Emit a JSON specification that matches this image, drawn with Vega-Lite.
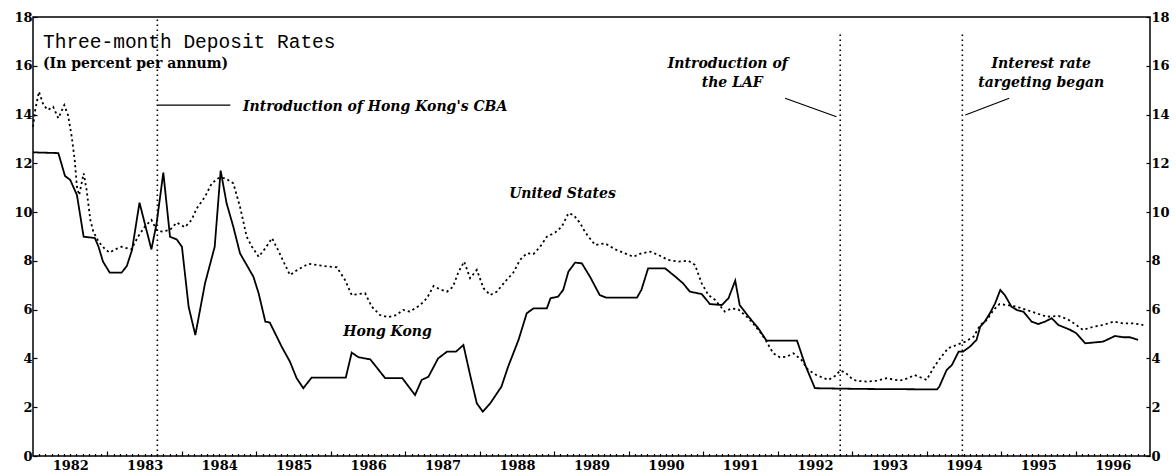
{
  "$schema": "https://vega.github.io/schema/vega-lite/v6.json",
  "width": 1117,
  "height": 439,
  "autosize": {"type": "none"},
  "padding": {"left": 33, "top": 17, "right": 26, "bottom": 20},
  "background": "white",
  "config": {
    "view": {"stroke": "black", "strokeWidth": 1.5},
    "axis": {"domain": false, "grid": false, "title": null, "tickColor": "black", "tickWidth": 1.2, "labelColor": "black", "labelFont": "DejaVu Serif", "labelFontWeight": "bold", "labelFontSize": 13, "labelOverlap": false, "labelFlush": false}
  },
  "datasets": {
    "rates": [
      {"series": "Hong Kong", "year": 1982.00, "rate": 12.45},
      {"series": "Hong Kong", "year": 1982.34, "rate": 12.42},
      {"series": "Hong Kong", "year": 1982.43, "rate": 11.48},
      {"series": "Hong Kong", "year": 1982.50, "rate": 11.32},
      {"series": "Hong Kong", "year": 1982.59, "rate": 10.70},
      {"series": "Hong Kong", "year": 1982.68, "rate": 8.99},
      {"series": "Hong Kong", "year": 1982.83, "rate": 8.94},
      {"series": "Hong Kong", "year": 1982.88, "rate": 8.58},
      {"series": "Hong Kong", "year": 1982.94, "rate": 7.97},
      {"series": "Hong Kong", "year": 1983.03, "rate": 7.52},
      {"series": "Hong Kong", "year": 1983.19, "rate": 7.52},
      {"series": "Hong Kong", "year": 1983.26, "rate": 7.79},
      {"series": "Hong Kong", "year": 1983.33, "rate": 8.45},
      {"series": "Hong Kong", "year": 1983.43, "rate": 10.39},
      {"series": "Hong Kong", "year": 1983.59, "rate": 8.47},
      {"series": "Hong Kong", "year": 1983.66, "rate": 9.54},
      {"series": "Hong Kong", "year": 1983.75, "rate": 11.62},
      {"series": "Hong Kong", "year": 1983.84, "rate": 8.99},
      {"series": "Hong Kong", "year": 1983.93, "rate": 8.88},
      {"series": "Hong Kong", "year": 1984.00, "rate": 8.58},
      {"series": "Hong Kong", "year": 1984.09, "rate": 6.12},
      {"series": "Hong Kong", "year": 1984.18, "rate": 4.96},
      {"series": "Hong Kong", "year": 1984.31, "rate": 7.08},
      {"series": "Hong Kong", "year": 1984.44, "rate": 8.58},
      {"series": "Hong Kong", "year": 1984.52, "rate": 11.70},
      {"series": "Hong Kong", "year": 1984.60, "rate": 10.36},
      {"series": "Hong Kong", "year": 1984.69, "rate": 9.40},
      {"series": "Hong Kong", "year": 1984.78, "rate": 8.31},
      {"series": "Hong Kong", "year": 1984.87, "rate": 7.83},
      {"series": "Hong Kong", "year": 1984.96, "rate": 7.35},
      {"series": "Hong Kong", "year": 1985.03, "rate": 6.67},
      {"series": "Hong Kong", "year": 1985.12, "rate": 5.51},
      {"series": "Hong Kong", "year": 1985.18, "rate": 5.47},
      {"series": "Hong Kong", "year": 1985.34, "rate": 4.48},
      {"series": "Hong Kong", "year": 1985.45, "rate": 3.87},
      {"series": "Hong Kong", "year": 1985.54, "rate": 3.19},
      {"series": "Hong Kong", "year": 1985.63, "rate": 2.78},
      {"series": "Hong Kong", "year": 1985.74, "rate": 3.21},
      {"series": "Hong Kong", "year": 1986.20, "rate": 3.21},
      {"series": "Hong Kong", "year": 1986.28, "rate": 4.24},
      {"series": "Hong Kong", "year": 1986.37, "rate": 4.05},
      {"series": "Hong Kong", "year": 1986.53, "rate": 3.96},
      {"series": "Hong Kong", "year": 1986.73, "rate": 3.19},
      {"series": "Hong Kong", "year": 1986.96, "rate": 3.19},
      {"series": "Hong Kong", "year": 1987.13, "rate": 2.50},
      {"series": "Hong Kong", "year": 1987.22, "rate": 3.12},
      {"series": "Hong Kong", "year": 1987.31, "rate": 3.25},
      {"series": "Hong Kong", "year": 1987.44, "rate": 4.00},
      {"series": "Hong Kong", "year": 1987.56, "rate": 4.28},
      {"series": "Hong Kong", "year": 1987.68, "rate": 4.28},
      {"series": "Hong Kong", "year": 1987.78, "rate": 4.55},
      {"series": "Hong Kong", "year": 1987.87, "rate": 3.32},
      {"series": "Hong Kong", "year": 1987.96, "rate": 2.16},
      {"series": "Hong Kong", "year": 1988.04, "rate": 1.82},
      {"series": "Hong Kong", "year": 1988.14, "rate": 2.16},
      {"series": "Hong Kong", "year": 1988.29, "rate": 2.84},
      {"series": "Hong Kong", "year": 1988.38, "rate": 3.66},
      {"series": "Hong Kong", "year": 1988.52, "rate": 4.76},
      {"series": "Hong Kong", "year": 1988.63, "rate": 5.85},
      {"series": "Hong Kong", "year": 1988.72, "rate": 6.05},
      {"series": "Hong Kong", "year": 1988.90, "rate": 6.05},
      {"series": "Hong Kong", "year": 1988.95, "rate": 6.47},
      {"series": "Hong Kong", "year": 1989.05, "rate": 6.53},
      {"series": "Hong Kong", "year": 1989.12, "rate": 6.81},
      {"series": "Hong Kong", "year": 1989.19, "rate": 7.56},
      {"series": "Hong Kong", "year": 1989.28, "rate": 7.93},
      {"series": "Hong Kong", "year": 1989.37, "rate": 7.90},
      {"series": "Hong Kong", "year": 1989.48, "rate": 7.35},
      {"series": "Hong Kong", "year": 1989.61, "rate": 6.60},
      {"series": "Hong Kong", "year": 1989.70, "rate": 6.49},
      {"series": "Hong Kong", "year": 1990.11, "rate": 6.49},
      {"series": "Hong Kong", "year": 1990.17, "rate": 6.81},
      {"series": "Hong Kong", "year": 1990.26, "rate": 7.69},
      {"series": "Hong Kong", "year": 1990.49, "rate": 7.69},
      {"series": "Hong Kong", "year": 1990.60, "rate": 7.42},
      {"series": "Hong Kong", "year": 1990.73, "rate": 7.08},
      {"series": "Hong Kong", "year": 1990.82, "rate": 6.74},
      {"series": "Hong Kong", "year": 1990.98, "rate": 6.64},
      {"series": "Hong Kong", "year": 1991.09, "rate": 6.23},
      {"series": "Hong Kong", "year": 1991.25, "rate": 6.19},
      {"series": "Hong Kong", "year": 1991.34, "rate": 6.47},
      {"series": "Hong Kong", "year": 1991.43, "rate": 7.19},
      {"series": "Hong Kong", "year": 1991.49, "rate": 6.19},
      {"series": "Hong Kong", "year": 1991.61, "rate": 5.71},
      {"series": "Hong Kong", "year": 1991.74, "rate": 5.24},
      {"series": "Hong Kong", "year": 1991.85, "rate": 4.73},
      {"series": "Hong Kong", "year": 1992.26, "rate": 4.73},
      {"series": "Hong Kong", "year": 1992.37, "rate": 3.73},
      {"series": "Hong Kong", "year": 1992.50, "rate": 2.78},
      {"series": "Hong Kong", "year": 1993.11, "rate": 2.75},
      {"series": "Hong Kong", "year": 1994.14, "rate": 2.73},
      {"series": "Hong Kong", "year": 1994.17, "rate": 2.84},
      {"series": "Hong Kong", "year": 1994.27, "rate": 3.53},
      {"series": "Hong Kong", "year": 1994.34, "rate": 3.73},
      {"series": "Hong Kong", "year": 1994.43, "rate": 4.28},
      {"series": "Hong Kong", "year": 1994.49, "rate": 4.28},
      {"series": "Hong Kong", "year": 1994.58, "rate": 4.48},
      {"series": "Hong Kong", "year": 1994.67, "rate": 4.76},
      {"series": "Hong Kong", "year": 1994.72, "rate": 5.30},
      {"series": "Hong Kong", "year": 1994.78, "rate": 5.51},
      {"series": "Hong Kong", "year": 1994.85, "rate": 5.85},
      {"series": "Hong Kong", "year": 1994.92, "rate": 6.26},
      {"series": "Hong Kong", "year": 1994.99, "rate": 6.81},
      {"series": "Hong Kong", "year": 1995.05, "rate": 6.60},
      {"series": "Hong Kong", "year": 1995.14, "rate": 6.12},
      {"series": "Hong Kong", "year": 1995.21, "rate": 5.99},
      {"series": "Hong Kong", "year": 1995.30, "rate": 5.92},
      {"series": "Hong Kong", "year": 1995.41, "rate": 5.51},
      {"series": "Hong Kong", "year": 1995.50, "rate": 5.41},
      {"series": "Hong Kong", "year": 1995.59, "rate": 5.51},
      {"series": "Hong Kong", "year": 1995.68, "rate": 5.65},
      {"series": "Hong Kong", "year": 1995.77, "rate": 5.37},
      {"series": "Hong Kong", "year": 1995.93, "rate": 5.17},
      {"series": "Hong Kong", "year": 1996.01, "rate": 5.03},
      {"series": "Hong Kong", "year": 1996.13, "rate": 4.62},
      {"series": "Hong Kong", "year": 1996.37, "rate": 4.69},
      {"series": "Hong Kong", "year": 1996.53, "rate": 4.92},
      {"series": "Hong Kong", "year": 1996.64, "rate": 4.87},
      {"series": "Hong Kong", "year": 1996.73, "rate": 4.87},
      {"series": "Hong Kong", "year": 1996.84, "rate": 4.76},
      {"series": "United States", "year": 1982.00, "rate": 13.50},
      {"series": "United States", "year": 1982.03, "rate": 14.19},
      {"series": "United States", "year": 1982.08, "rate": 14.94},
      {"series": "United States", "year": 1982.14, "rate": 14.39},
      {"series": "United States", "year": 1982.20, "rate": 14.19},
      {"series": "United States", "year": 1982.27, "rate": 14.32},
      {"series": "United States", "year": 1982.34, "rate": 13.85},
      {"series": "United States", "year": 1982.42, "rate": 14.39},
      {"series": "United States", "year": 1982.47, "rate": 13.98},
      {"series": "United States", "year": 1982.52, "rate": 13.09},
      {"series": "United States", "year": 1982.56, "rate": 12.14},
      {"series": "United States", "year": 1982.59, "rate": 11.04},
      {"series": "United States", "year": 1982.62, "rate": 10.70},
      {"series": "United States", "year": 1982.68, "rate": 11.59},
      {"series": "United States", "year": 1982.72, "rate": 10.91},
      {"series": "United States", "year": 1982.77, "rate": 9.68},
      {"series": "United States", "year": 1982.81, "rate": 9.20},
      {"series": "United States", "year": 1982.88, "rate": 8.79},
      {"series": "United States", "year": 1982.97, "rate": 8.47},
      {"series": "United States", "year": 1983.03, "rate": 8.34},
      {"series": "United States", "year": 1983.10, "rate": 8.47},
      {"series": "United States", "year": 1983.19, "rate": 8.58},
      {"series": "United States", "year": 1983.32, "rate": 8.47},
      {"series": "United States", "year": 1983.41, "rate": 8.99},
      {"series": "United States", "year": 1983.50, "rate": 9.40},
      {"series": "United States", "year": 1983.59, "rate": 9.68},
      {"series": "United States", "year": 1983.66, "rate": 9.27},
      {"series": "United States", "year": 1983.73, "rate": 9.20},
      {"series": "United States", "year": 1983.84, "rate": 9.27},
      {"series": "United States", "year": 1983.93, "rate": 9.57},
      {"series": "United States", "year": 1984.04, "rate": 9.38},
      {"series": "United States", "year": 1984.13, "rate": 9.68},
      {"series": "United States", "year": 1984.20, "rate": 10.16},
      {"series": "United States", "year": 1984.31, "rate": 10.63},
      {"series": "United States", "year": 1984.40, "rate": 11.18},
      {"series": "United States", "year": 1984.49, "rate": 11.39},
      {"series": "United States", "year": 1984.58, "rate": 11.39},
      {"series": "United States", "year": 1984.69, "rate": 11.18},
      {"series": "United States", "year": 1984.78, "rate": 10.22},
      {"series": "United States", "year": 1984.87, "rate": 8.99},
      {"series": "United States", "year": 1984.94, "rate": 8.58},
      {"series": "United States", "year": 1985.03, "rate": 8.17},
      {"series": "United States", "year": 1985.12, "rate": 8.52},
      {"series": "United States", "year": 1985.21, "rate": 8.93},
      {"series": "United States", "year": 1985.29, "rate": 8.45},
      {"series": "United States", "year": 1985.45, "rate": 7.42},
      {"series": "United States", "year": 1985.56, "rate": 7.65},
      {"series": "United States", "year": 1985.70, "rate": 7.88},
      {"series": "United States", "year": 1985.90, "rate": 7.79},
      {"series": "United States", "year": 1986.08, "rate": 7.74},
      {"series": "United States", "year": 1986.19, "rate": 7.22},
      {"series": "United States", "year": 1986.28, "rate": 6.60},
      {"series": "United States", "year": 1986.37, "rate": 6.64},
      {"series": "United States", "year": 1986.46, "rate": 6.67},
      {"series": "United States", "year": 1986.55, "rate": 6.12},
      {"series": "United States", "year": 1986.66, "rate": 5.78},
      {"series": "United States", "year": 1986.77, "rate": 5.69},
      {"series": "United States", "year": 1986.88, "rate": 5.78},
      {"series": "United States", "year": 1986.97, "rate": 5.99},
      {"series": "United States", "year": 1987.06, "rate": 5.92},
      {"series": "United States", "year": 1987.20, "rate": 6.19},
      {"series": "United States", "year": 1987.29, "rate": 6.47},
      {"series": "United States", "year": 1987.38, "rate": 6.97},
      {"series": "United States", "year": 1987.47, "rate": 6.83},
      {"series": "United States", "year": 1987.56, "rate": 6.74},
      {"series": "United States", "year": 1987.64, "rate": 6.94},
      {"series": "United States", "year": 1987.71, "rate": 7.52},
      {"series": "United States", "year": 1987.79, "rate": 7.97},
      {"series": "United States", "year": 1987.87, "rate": 7.29},
      {"series": "United States", "year": 1987.96, "rate": 7.63},
      {"series": "United States", "year": 1988.05, "rate": 6.88},
      {"series": "United States", "year": 1988.14, "rate": 6.60},
      {"series": "United States", "year": 1988.23, "rate": 6.74},
      {"series": "United States", "year": 1988.32, "rate": 7.08},
      {"series": "United States", "year": 1988.45, "rate": 7.52},
      {"series": "United States", "year": 1988.54, "rate": 8.04},
      {"series": "United States", "year": 1988.63, "rate": 8.31},
      {"series": "United States", "year": 1988.72, "rate": 8.28},
      {"series": "United States", "year": 1988.81, "rate": 8.58},
      {"series": "United States", "year": 1988.90, "rate": 8.99},
      {"series": "United States", "year": 1989.01, "rate": 9.16},
      {"series": "United States", "year": 1989.10, "rate": 9.40},
      {"series": "United States", "year": 1989.19, "rate": 9.95},
      {"series": "United States", "year": 1989.26, "rate": 9.88},
      {"series": "United States", "year": 1989.35, "rate": 9.54},
      {"series": "United States", "year": 1989.41, "rate": 9.20},
      {"series": "United States", "year": 1989.46, "rate": 8.99},
      {"series": "United States", "year": 1989.55, "rate": 8.65},
      {"series": "United States", "year": 1989.68, "rate": 8.72},
      {"series": "United States", "year": 1989.82, "rate": 8.47},
      {"series": "United States", "year": 1989.95, "rate": 8.31},
      {"series": "United States", "year": 1990.06, "rate": 8.17},
      {"series": "United States", "year": 1990.17, "rate": 8.31},
      {"series": "United States", "year": 1990.29, "rate": 8.38},
      {"series": "United States", "year": 1990.40, "rate": 8.24},
      {"series": "United States", "year": 1990.53, "rate": 8.04},
      {"series": "United States", "year": 1990.67, "rate": 7.97},
      {"series": "United States", "year": 1990.80, "rate": 8.01},
      {"series": "United States", "year": 1990.89, "rate": 7.83},
      {"series": "United States", "year": 1990.98, "rate": 7.08},
      {"series": "United States", "year": 1991.07, "rate": 6.60},
      {"series": "United States", "year": 1991.16, "rate": 6.40},
      {"series": "United States", "year": 1991.29, "rate": 5.92},
      {"series": "United States", "year": 1991.38, "rate": 6.05},
      {"series": "United States", "year": 1991.47, "rate": 6.01},
      {"series": "United States", "year": 1991.56, "rate": 5.78},
      {"series": "United States", "year": 1991.65, "rate": 5.51},
      {"series": "United States", "year": 1991.76, "rate": 5.10},
      {"series": "United States", "year": 1991.85, "rate": 4.69},
      {"series": "United States", "year": 1991.94, "rate": 4.21},
      {"series": "United States", "year": 1992.03, "rate": 4.05},
      {"series": "United States", "year": 1992.12, "rate": 4.07},
      {"series": "United States", "year": 1992.21, "rate": 4.21},
      {"series": "United States", "year": 1992.32, "rate": 3.94},
      {"series": "United States", "year": 1992.41, "rate": 3.53},
      {"series": "United States", "year": 1992.52, "rate": 3.32},
      {"series": "United States", "year": 1992.68, "rate": 3.12},
      {"series": "United States", "year": 1992.77, "rate": 3.28},
      {"series": "United States", "year": 1992.84, "rate": 3.50},
      {"series": "United States", "year": 1992.91, "rate": 3.42},
      {"series": "United States", "year": 1992.99, "rate": 3.19},
      {"series": "United States", "year": 1993.06, "rate": 3.08},
      {"series": "United States", "year": 1993.20, "rate": 3.05},
      {"series": "United States", "year": 1993.33, "rate": 3.09},
      {"series": "United States", "year": 1993.46, "rate": 3.19},
      {"series": "United States", "year": 1993.64, "rate": 3.09},
      {"series": "United States", "year": 1993.75, "rate": 3.19},
      {"series": "United States", "year": 1993.84, "rate": 3.32},
      {"series": "United States", "year": 1994.00, "rate": 3.12},
      {"series": "United States", "year": 1994.09, "rate": 3.60},
      {"series": "United States", "year": 1994.18, "rate": 4.00},
      {"series": "United States", "year": 1994.29, "rate": 4.42},
      {"series": "United States", "year": 1994.40, "rate": 4.55},
      {"series": "United States", "year": 1994.52, "rate": 4.69},
      {"series": "United States", "year": 1994.63, "rate": 4.89},
      {"series": "United States", "year": 1994.72, "rate": 5.37},
      {"series": "United States", "year": 1994.81, "rate": 5.58},
      {"series": "United States", "year": 1994.90, "rate": 5.99},
      {"series": "United States", "year": 1994.98, "rate": 6.23},
      {"series": "United States", "year": 1995.08, "rate": 6.19},
      {"series": "United States", "year": 1995.21, "rate": 6.12},
      {"series": "United States", "year": 1995.32, "rate": 6.01},
      {"series": "United States", "year": 1995.48, "rate": 5.85},
      {"series": "United States", "year": 1995.61, "rate": 5.71},
      {"series": "United States", "year": 1995.77, "rate": 5.74},
      {"series": "United States", "year": 1995.90, "rate": 5.60},
      {"series": "United States", "year": 1996.01, "rate": 5.37},
      {"series": "United States", "year": 1996.10, "rate": 5.17},
      {"series": "United States", "year": 1996.24, "rate": 5.30},
      {"series": "United States", "year": 1996.37, "rate": 5.37},
      {"series": "United States", "year": 1996.51, "rate": 5.51},
      {"series": "United States", "year": 1996.64, "rate": 5.44},
      {"series": "United States", "year": 1996.78, "rate": 5.44},
      {"series": "United States", "year": 1996.91, "rate": 5.37}
    ],
    "events": [
      {"event": "CBA", "year": 1983.67, "bottom": 0, "top": 18},
      {"event": "LAF", "year": 1992.84, "bottom": 0, "top": 17.3},
      {"event": "Targeting", "year": 1994.48, "bottom": 0, "top": 17.3}
    ],
    "connectors": [
      {"event": "CBA", "year": 1983.68, "rate": 14.39, "year2": 1984.65, "rate2": 14.39},
      {"event": "LAF", "year": 1992.10, "rate": 14.67, "year2": 1992.79, "rate2": 13.91},
      {"event": "Targeting", "year": 1994.52, "rate": 13.98, "year2": 1995.11, "rate2": 14.67}
    ],
    "notesLeft": [
      {"year": 1984.82, "rate": 14.16, "label": "Introduction of Hong Kong's CBA"}
    ],
    "notesCenter": [
      {"year": 1989.11, "rate": 10.58, "label": "United States"},
      {"year": 1986.76, "rate": 4.92, "label": "Hong Kong"},
      {"year": 1991.33, "rate": 15.90, "label": "Introduction of"},
      {"year": 1991.39, "rate": 15.14, "label": "the LAF"},
      {"year": 1995.54, "rate": 15.90, "label": "Interest rate"},
      {"year": 1995.54, "rate": 15.14, "label": "targeting began"}
    ]
  },
  "layer": [
    {
      "data": {"name": "events"},
      "mark": {"type": "rule", "color": "black", "strokeWidth": 1.6, "strokeDash": [1.6, 3.4]},
      "encoding": {
        "x": {"field": "year", "type": "quantitative", "scale": {"domain": [1982, 1997], "nice": false, "zero": false},
          "axis": {"orient": "bottom", "labels": false, "tickSize": -2.5, "values": [1982.0833,1982.1667,1982.25,1982.3333,1982.4167,1982.5,1982.5833,1982.6667,1982.75,1982.8333,1982.9167,1983.0833,1983.1667,1983.25,1983.3333,1983.4167,1983.5,1983.5833,1983.6667,1983.75,1983.8333,1983.9167,1984.0833,1984.1667,1984.25,1984.3333,1984.4167,1984.5,1984.5833,1984.6667,1984.75,1984.8333,1984.9167,1985.0833,1985.1667,1985.25,1985.3333,1985.4167,1985.5,1985.5833,1985.6667,1985.75,1985.8333,1985.9167,1986.0833,1986.1667,1986.25,1986.3333,1986.4167,1986.5,1986.5833,1986.6667,1986.75,1986.8333,1986.9167,1987.0833,1987.1667,1987.25,1987.3333,1987.4167,1987.5,1987.5833,1987.6667,1987.75,1987.8333,1987.9167,1988.0833,1988.1667,1988.25,1988.3333,1988.4167,1988.5,1988.5833,1988.6667,1988.75,1988.8333,1988.9167,1989.0833,1989.1667,1989.25,1989.3333,1989.4167,1989.5,1989.5833,1989.6667,1989.75,1989.8333,1989.9167,1990.0833,1990.1667,1990.25,1990.3333,1990.4167,1990.5,1990.5833,1990.6667,1990.75,1990.8333,1990.9167,1991.0833,1991.1667,1991.25,1991.3333,1991.4167,1991.5,1991.5833,1991.6667,1991.75,1991.8333,1991.9167,1992.0833,1992.1667,1992.25,1992.3333,1992.4167,1992.5,1992.5833,1992.6667,1992.75,1992.8333,1992.9167,1993.0833,1993.1667,1993.25,1993.3333,1993.4167,1993.5,1993.5833,1993.6667,1993.75,1993.8333,1993.9167,1994.0833,1994.1667,1994.25,1994.3333,1994.4167,1994.5,1994.5833,1994.6667,1994.75,1994.8333,1994.9167,1995.0833,1995.1667,1995.25,1995.3333,1995.4167,1995.5,1995.5833,1995.6667,1995.75,1995.8333,1995.9167,1996.0833,1996.1667,1996.25,1996.3333,1996.4167,1996.5,1996.5833,1996.6667,1996.75,1996.8333,1996.9167]}},
        "y": {"field": "bottom", "type": "quantitative", "scale": {"domain": [0, 18], "nice": false},
          "axis": {"orient": "right", "values": [0,2,4,6,8,10,12,14,16,18], "tickSize": -4, "labelPadding": 5}},
        "y2": {"field": "top"}
      }
    },
    {
      "data": {"name": "connectors"},
      "mark": {"type": "rule", "color": "black", "strokeWidth": 1.2},
      "encoding": {
        "x": {"field": "year", "type": "quantitative", "axis": {"orient": "bottom", "labels": false, "tickSize": -5, "values": [1983,1984,1985,1986,1987,1988,1989,1990,1991,1992,1993,1994,1995,1996]}},
        "y": {"field": "rate", "type": "quantitative", "axis": null},
        "x2": {"field": "year2"},
        "y2": {"field": "rate2"}
      }
    },
    {
      "data": {"name": "rates"},
      "mark": {"type": "line", "color": "black", "strokeWidth": 1.8},
      "encoding": {
        "x": {"field": "year", "type": "quantitative",
          "axis": {"orient": "bottom", "values": [1982.5,1983.5,1984.5,1985.5,1986.5,1987.5,1988.5,1989.5,1990.5,1991.5,1992.5,1993.5,1994.5,1995.5,1996.5], "labelExpr": "floor(datum.value)", "ticks": false, "labelPadding": 3}},
        "y": {"field": "rate", "type": "quantitative",
          "axis": {"orient": "left", "values": [0,2,4,6,8,10,12,14,16,18], "tickSize": -4, "labelPadding": 5}},
        "strokeDash": {"field": "series", "type": "nominal", "scale": {"domain": ["Hong Kong", "United States"], "range": [[1, 0], [2.2, 3]]}, "legend": null}
      }
    },
    {
      "data": {"values": [{"year": 1982.134, "rate": 16.73, "label": "Three-month Deposit Rates"}]},
      "mark": {"type": "text", "font": "Liberation Mono", "fontSize": 19.5, "align": "left", "baseline": "alphabetic", "color": "black"},
      "encoding": {
        "x": {"field": "year", "type": "quantitative", "axis": null},
        "y": {"field": "rate", "type": "quantitative", "axis": null},
        "text": {"field": "label"}
      }
    },
    {
      "data": {"values": [{"year": 1982.134, "rate": 15.91, "label": "(In percent per annum)"}]},
      "mark": {"type": "text", "font": "DejaVu Serif", "fontWeight": "bold", "fontSize": 14, "align": "left", "baseline": "alphabetic", "color": "black"},
      "encoding": {
        "x": {"field": "year", "type": "quantitative", "axis": null},
        "y": {"field": "rate", "type": "quantitative", "axis": null},
        "text": {"field": "label"}
      }
    },
    {
      "data": {"name": "notesLeft"},
      "mark": {"type": "text", "font": "DejaVu Serif", "fontWeight": "bold", "fontStyle": "italic", "fontSize": 14, "align": "left", "baseline": "alphabetic", "color": "black"},
      "encoding": {
        "x": {"field": "year", "type": "quantitative", "axis": null},
        "y": {"field": "rate", "type": "quantitative", "axis": null},
        "text": {"field": "label"}
      }
    },
    {
      "data": {"name": "notesCenter"},
      "mark": {"type": "text", "font": "DejaVu Serif", "fontWeight": "bold", "fontStyle": "italic", "fontSize": 14, "align": "center", "baseline": "alphabetic", "color": "black"},
      "encoding": {
        "x": {"field": "year", "type": "quantitative", "axis": null},
        "y": {"field": "rate", "type": "quantitative", "axis": null},
        "text": {"field": "label"}
      }
    }
  ],
  "resolve": {"axis": {"x": "independent", "y": "independent"}}
}
